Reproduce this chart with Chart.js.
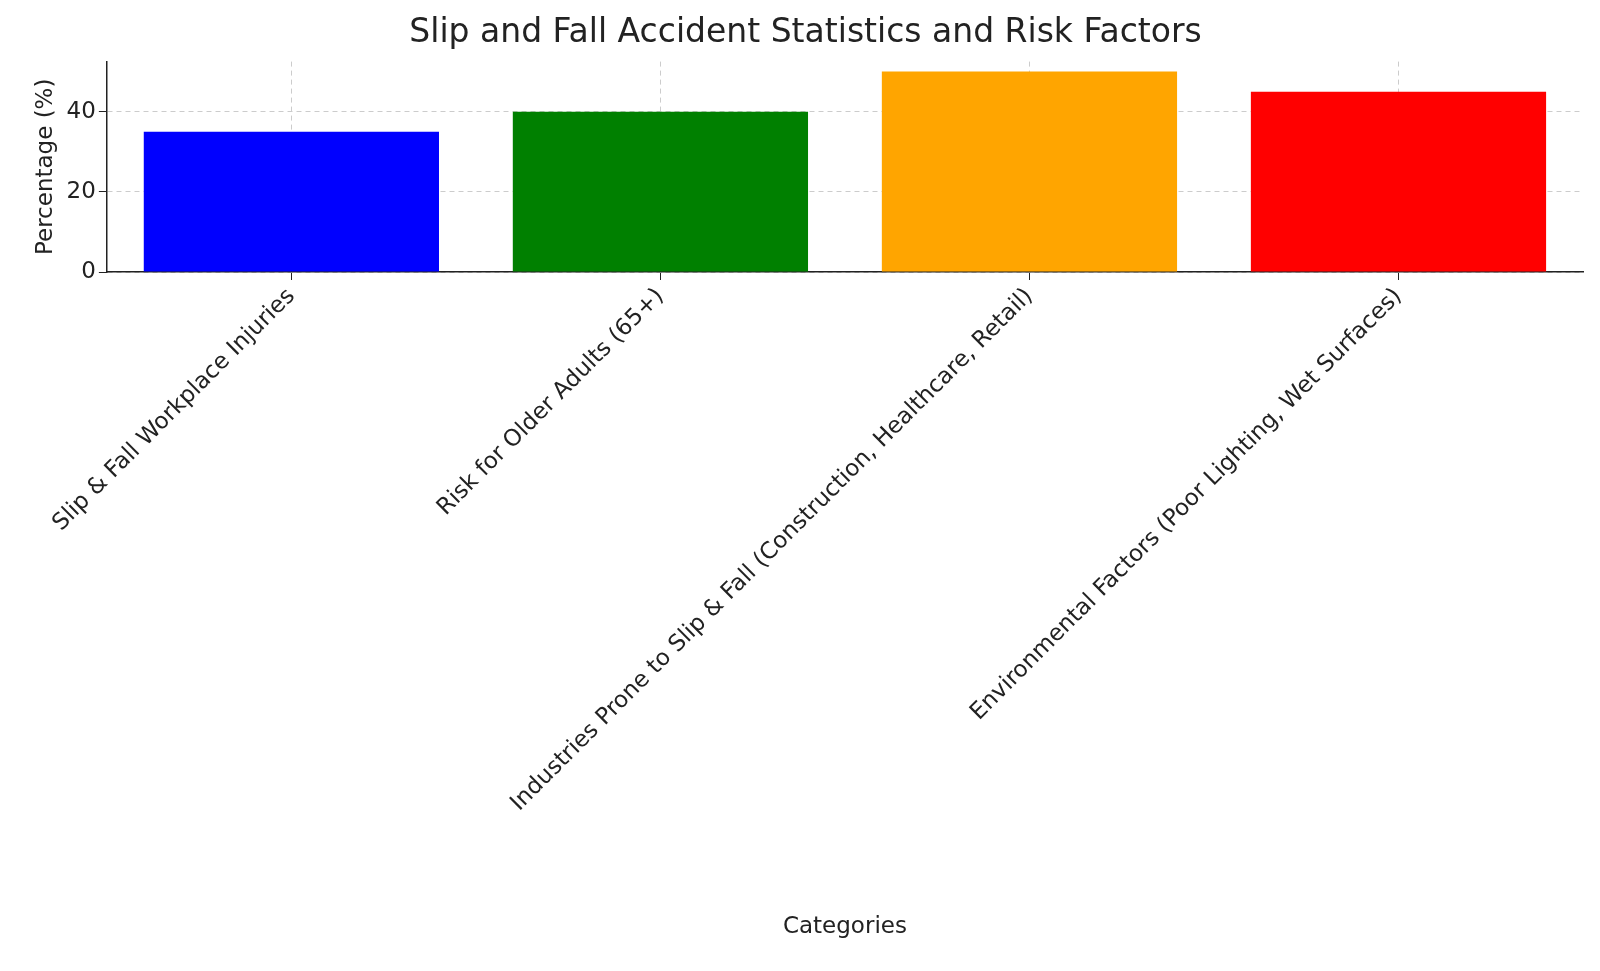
<!DOCTYPE html>
<html>
<head>
<meta charset="utf-8">
<script src="https://cdn.jsdelivr.net/npm/chart.js@4"></script>
<style>
  html, body { margin: 0; padding: 0; background: #fff; }
  #wrap { width: 1600px; height: 971px; }
</style>
</head>
<body>
<div id="wrap"><canvas id="myChart"></canvas></div>
<script>
const categories = [
  'Slip & Fall Workplace Injuries',
  'Risk for Older Adults (65+)',
  'Industries Prone to Slip & Fall (Construction, Healthcare, Retail)',
  'Environmental Factors (Poor Lighting, Wet Surfaces)'
];
const percentages = [35, 40, 50, 45];
const barColors = ['blue', 'green', 'orange', 'red'];
const yTicks = [0, 20, 40];

const font = 'DejaVu Sans';
const ctx = document.getElementById('myChart');

new Chart(ctx, {
  type: 'bar',
  data: {
    labels: categories,
    datasets: [{
      data: percentages,
      backgroundColor: barColors,
      categoryPercentage: 0.8,
      barPercentage: 1.0
    }]
  },
  options: {
    responsive: true,
    maintainAspectRatio: false,
    animation: false,
    layout: { padding: { left: 28, right: 17, top: 8, bottom: 26 } },
    plugins: {
      legend: { display: false },
      tooltip: { enabled: false },
      title: {
        display: true,
        text: 'Slip and Fall Accident Statistics and Risk Factors',
        color: '#222',
        font: { family: font, size: 33, weight: 'normal' },
        padding: { top: 6, bottom: 8 }
      }
    },
    scales: {
      x: {
        afterFit: (s) => { s.height = 673; },
        grid: { offset: false, color: '#ccc', tickColor: '#222', tickLength: 8 },
        border: { color: '#222', width: 1.5, dash: [5, 4] },
        ticks: {
          color: '#222',
          font: { family: font, size: 23 },
          maxRotation: 45, minRotation: 45,
          autoSkip: false
        },
        title: {
          display: true, text: 'Categories', color: '#222',
          font: { family: font, size: 23 }, padding: { top: 10 }
        }
      },
      y: {
        min: 0, max: 52.5,
        afterBuildTicks: (s) => { s.ticks = yTicks.map(v => ({ value: v })); },
        grid: { color: '#ccc', tickColor: '#222', tickLength: 8 },
        border: { color: '#222', width: 1.5, dash: [5, 4] },
        ticks: { color: '#222', font: { family: font, size: 23 } },
        title: {
          display: true, text: 'Percentage (%)', color: '#222',
          font: { family: font, size: 23 }, padding: { bottom: 4 }
        }
      }
    }
  }
});
</script>
</body>
</html>
